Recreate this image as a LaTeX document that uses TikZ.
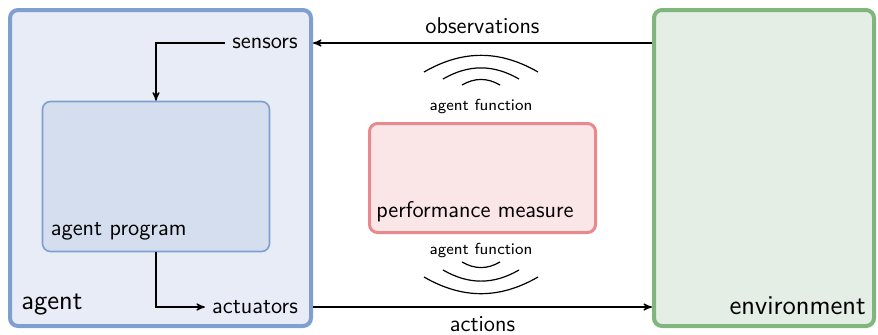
\documentclass[tikz,border=0pt]{standalone}
\usetikzlibrary{arrows,positioning}
\definecolor{agentfill}{HTML}{E8ECF6}
\definecolor{agentdraw}{HTML}{7F9FCF}
\definecolor{progfill}{HTML}{D5DEEE}
\definecolor{envfill}{HTML}{E4EEE4}
\definecolor{envdraw}{HTML}{80B57D}
\definecolor{perffill}{HTML}{FAE6E7}
\definecolor{perfdraw}{HTML}{E8898D}

\begin{document}
\begin{tikzpicture}[->,>=stealth',semithick,x=0.5pt,y=-0.5pt,font=\sffamily\fontsize{11.4}{13}\selectfont,
    box/.style={draw,rounded corners=4pt,inner sep=0pt},
    biglbl/.style={font=\sffamily\fontsize{13.6}{16}\selectfont},
    smalllbl/.style={font=\sffamily\footnotesize}]
        \useasboundingbox (0,0) rectangle (878,334);
        % boxes
        \node[box,fill=agentfill,draw=agentdraw,line width=2pt,minimum width=150.5pt,minimum height=158pt](agent)at(160.5, 168){};
        \node[box,fill=progfill,draw=agentdraw,line width=0.8pt,minimum width=113.5pt,minimum height=75pt](program)at(156, 176.5){};
        \node[box,fill=envfill,draw=envdraw,line width=2pt,minimum width=110pt,minimum height=158pt](env)at(764, 168){};
        \node[box,fill=perffill,draw=perfdraw,line width=1.5pt,minimum width=113pt,minimum height=54.5pt](perf)at(482.5, 178){};
        % box labels
        \node[anchor=south west,biglbl](agentlbl)at([xshift=3pt,yshift=3pt]agent.south west){agent};
        \node[anchor=south west](proglbl)at([xshift=1pt,yshift=2.5pt]program.south west){agent program};
        \node[anchor=south east,biglbl](envlbl)at([xshift=-1.5pt,yshift=3pt]env.south east){environment};
        \node[anchor=south west](perflbl)at([xshift=0.5pt,yshift=2.5pt]perf.south west){performance measure};
        \node(sensors)at(265, 43){sensors};
        \node(actuators)at(255, 307){actuators};
        \node[smalllbl](funtop)at(481, 106){agent function};
        \node[smalllbl](funbot)at(481, 250){agent function};
        % arrows
        \draw(sensors.west) -| (program.north);
        \draw(program.south) |- (actuators.west);
        \draw(env.west |- sensors) -- node[above,inner sep=4.5pt]{observations} (agent.east |- sensors);
        \draw(agent.east |- actuators) -- node[below,inner sep=4.5pt]{actions} (env.west |- actuators);
        % waves
        \foreach \w/\y in {57/72, 38/79, 19/85}
            \draw[-] (481-\w, \y) to[bend left=30] (481+\w, \y);
        \foreach \w/\y in {57/277, 38/270, 19/262}
            \draw[-] (481-\w, \y) to[bend right=30] (481+\w, \y);
    \end{tikzpicture}
\end{document}
